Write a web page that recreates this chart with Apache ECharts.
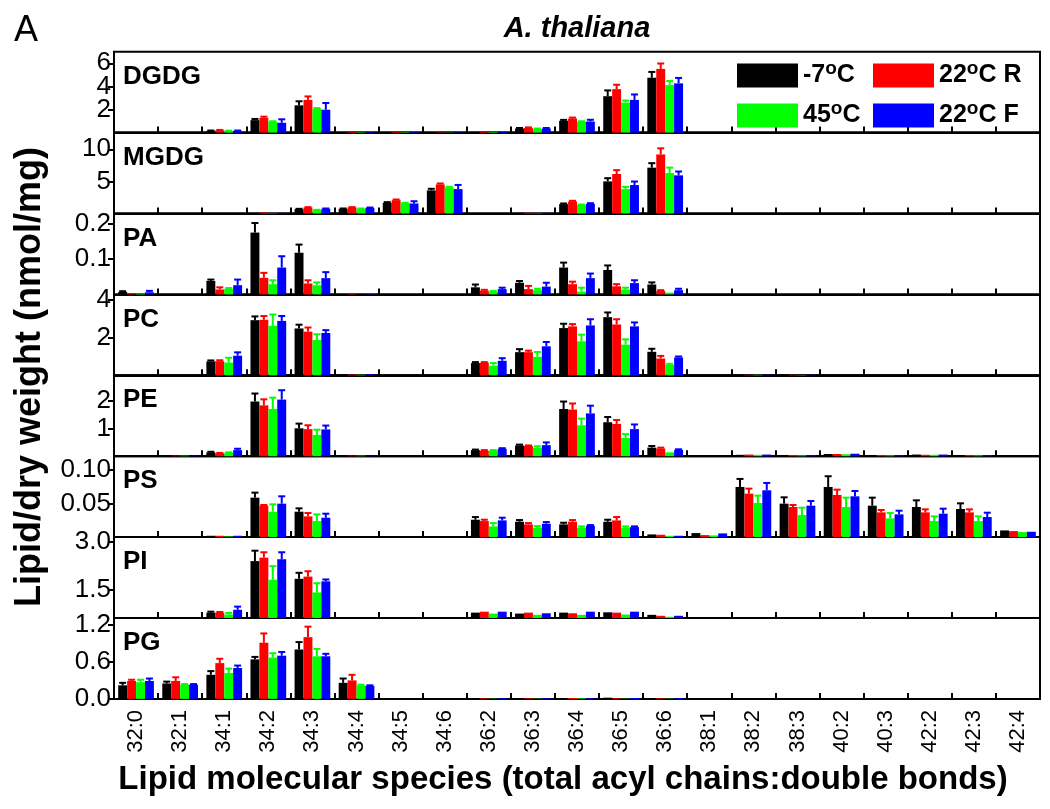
<!DOCTYPE html>
<html><head><meta charset="utf-8">
<script src="https://cdn.jsdelivr.net/npm/echarts@6/dist/echarts.min.js"></script>
<style>html,body{margin:0;padding:0;background:#fff}#c{width:1050px;height:809px}</style>
</head><body><div id="c"></div>
<script>
// ---------------- DATA ----------------
const categories = ['32:0','32:1','34:1','34:2','34:3','34:4','34:5','34:6','36:2','36:3','36:4','36:5','36:6','38:1','38:2','38:3','40:2','40:3','42:2','42:3','42:4'];
const seriesNames = ['-7°C','22°C R','45°C','22°C F'];
const panelNames = ['DGDG','MGDG','PA','PC','PE','PS','PI','PG'];
const n = null;

// DGDG
const dgdgM7  = [n,n,0.15,1.08,2.36,0.05,0.05,0.03,0.06,0.35,1.02,3.15,4.75,n,n,n,n,n,n,n,n];
const dgdgR22 = [n,n,0.20,1.28,2.83,0.05,0.05,0.03,0.07,0.40,1.22,3.76,5.51,n,n,n,n,n,n,n,n];
const dgdg45  = [n,n,0.15,0.93,2.07,0.04,0.04,0.02,0.05,0.32,0.93,2.60,4.11,n,n,n,n,n,n,n,n];
const dgdgF22 = [n,n,0.15,0.85,1.98,0.05,0.05,0.03,0.06,0.35,0.96,2.83,4.26,n,n,n,n,n,n,n,n];
const dgdgM7Err  = [0,0,0.03,0.10,0.35,0,0,0,0,0.05,0.08,0.50,0.50,0,0,0,0,0,0,0,0];
const dgdgR22Err = [0,0,0.03,0.10,0.30,0,0,0,0,0.05,0.08,0.38,0.47,0,0,0,0,0,0,0,0];
const dgdg45Err  = [0,0,0.02,0.05,0.05,0,0,0,0,0.03,0.05,0.17,0.35,0,0,0,0,0,0,0,0];
const dgdgF22Err = [0,0,0.03,0.30,0.58,0,0,0,0,0.05,0.15,0.47,0.47,0,0,0,0,0,0,0,0];

// MGDG
const mgdgM7  = [n,n,n,0.10,0.68,0.73,1.67,3.60,n,0.10,1.46,5.00,7.14,n,n,n,n,n,n,n,n];
const mgdgR22 = [n,n,n,0.15,0.94,0.94,2.08,4.53,n,0.12,1.88,6.15,9.20,n,n,n,n,n,n,n,n];
const mgdg45  = [n,n,n,0.05,0.52,0.73,1.61,4.06,n,0.05,1.35,3.80,6.30,n,n,n,n,n,n,n,n];
const mgdgF22 = [n,n,n,0.10,0.73,0.88,1.56,3.80,n,0.10,1.51,4.43,5.94,n,n,n,n,n,n,n,n];
const mgdgM7Err  = [0,0,0,0,0.05,0.05,0.10,0.25,0,0,0.10,0.50,0.70,0,0,0,0,0,0,0,0];
const mgdgR22Err = [0,0,0,0,0.05,0.05,0.10,0.15,0,0,0.10,0.60,0.95,0,0,0,0,0,0,0,0];
const mgdg45Err  = [0,0,0,0,0.05,0.05,0.05,0.10,0,0,0.05,0.35,0.85,0,0,0,0,0,0,0,0];
const mgdgF22Err = [0,0,0,0,0.05,0.05,0.35,0.65,0,0,0.10,0.55,0.60,0,0,0,0,0,0,0,0];

// PA
const paM7  = [0.007,n,0.038,0.175,0.118,0.001,n,0.001,0.020,0.033,0.076,0.069,0.028,n,n,n,n,n,n,n,n];
const paR22 = [0.003,n,0.014,0.047,0.031,0.001,n,n,0.011,0.015,0.029,0.023,0.010,n,n,n,n,n,n,n,n];
const pa45  = [0.002,n,0.016,0.029,0.026,n,n,n,0.008,0.012,0.008,0.014,0.005,n,n,n,n,n,n,n,n];
const paF22 = [0.006,n,0.026,0.076,0.046,0.001,n,n,0.015,0.022,0.046,0.032,0.012,n,n,n,n,n,n,n,n];
const paM7Err  = [0.002,0,0.004,0.027,0.023,0,0,0,0.008,0.005,0.014,0.013,0.006,0,0,0,0,0,0,0,0];
const paR22Err = [0,0,0.006,0.014,0.009,0,0,0,0.002,0.009,0.007,0.006,0.002,0,0,0,0,0,0,0,0];
const pa45Err  = [0,0,0.002,0.011,0.008,0,0,0,0.002,0.004,0.011,0.005,0,0,0,0,0,0,0,0,0];
const paF22Err = [0.004,0,0.016,0.032,0.017,0,0,0,0.004,0.011,0.013,0.008,0.004,0,0,0,0,0,0,0,0];

// PC
const pcM7  = [n,n,0.74,2.93,2.49,0.05,n,n,0.65,1.23,2.51,3.09,1.25,n,0.03,0.03,n,n,n,n,n];
const pcR22 = [n,n,0.75,2.95,2.32,0.04,n,n,0.67,1.23,2.60,2.70,0.89,n,0.03,0.03,n,n,n,n,n];
const pc45  = [n,n,0.68,2.63,1.88,0.03,n,n,0.51,0.98,1.81,1.63,0.56,n,0.03,0.02,n,n,n,n,n];
const pcF22 = [n,n,1.04,2.89,2.25,0.05,n,n,0.77,1.54,2.65,2.60,0.95,n,0.03,0.03,n,n,n,n,n];
const pcM7Err  = [0,0,0.05,0.20,0.20,0,0,0,0.05,0.16,0.23,0.25,0.16,0,0,0,0,0,0,0,0];
const pcR22Err = [0,0,0.05,0.20,0.22,0,0,0,0.03,0.08,0.12,0.28,0.14,0,0,0,0,0,0,0,0];
const pc45Err  = [0,0,0.25,0.60,0.30,0,0,0,0.14,0.26,0.35,0.28,0.05,0,0,0,0,0,0,0,0];
const pcF22Err = [0,0,0.18,0.26,0.15,0,0,0,0.14,0.23,0.33,0.21,0.05,0,0,0,0,0,0,0,0];

// PE
const peM7  = [n,0.02,0.14,1.98,1.01,0.02,n,n,0.22,0.39,1.71,1.23,0.31,n,0.05,0.04,0.08,0.04,0.06,0.04,n];
const peR22 = [n,0.02,0.11,1.84,0.98,0.02,n,n,0.20,0.37,1.69,1.17,0.28,n,0.06,0.04,0.08,0.04,0.05,0.04,n];
const pe45  = [n,0.02,0.13,1.71,0.77,0.02,n,n,0.20,0.31,1.12,0.66,0.14,n,0.05,0.03,0.07,0.03,0.05,0.03,n];
const peF22 = [n,0.02,0.22,2.05,0.97,0.02,n,n,0.27,0.40,1.55,0.98,0.23,n,0.06,0.04,0.09,0.04,0.06,0.04,n];
const peM7Err  = [0,0,0.02,0.29,0.17,0,0,0,0.02,0.03,0.27,0.19,0.06,0,0,0,0,0,0,0,0];
const peR22Err = [0,0,0.01,0.22,0.14,0,0,0,0.02,0.02,0.22,0.14,0.03,0,0,0,0,0,0,0,0];
const pe45Err  = [0,0,0.01,0.41,0.19,0,0,0,0.02,0.05,0.24,0.14,0,0,0,0,0,0,0,0,0];
const peF22Err = [0,0,0.05,0.34,0.14,0,0,0,0.02,0.10,0.28,0.17,0.02,0,0,0,0,0,0,0,0];

// PS
const psM7  = [n,n,0.002,0.059,0.038,n,n,n,0.026,0.023,0.019,0.023,0.004,0.006,0.075,0.050,0.075,0.047,0.045,0.042,0.010];
const psR22 = [n,n,0.002,0.047,0.031,n,n,n,0.024,0.019,0.023,0.025,0.0035,0.003,0.065,0.045,0.063,0.037,0.037,0.037,0.009];
const ps45  = [n,n,0.001,0.038,0.024,n,n,n,0.016,0.014,0.014,0.014,0.002,0.0025,0.051,0.033,0.045,0.028,0.024,0.024,0.0075];
const psF22 = [n,n,0.002,0.050,0.029,n,n,n,0.025,0.020,0.017,0.015,0.002,0.0055,0.070,0.047,0.061,0.034,0.035,0.030,0.008];
const psM7Err  = [0,0,0,0.0075,0.005,0,0,0,0.004,0.0025,0.0025,0.003,0,0,0.012,0.0095,0.016,0.012,0.010,0.0085,0];
const psR22Err = [0,0,0,0.001,0.005,0,0,0,0.002,0.002,0.0025,0.005,0,0,0.0075,0.003,0.008,0.0035,0.0045,0.0045,0];
const ps45Err  = [0,0,0,0.011,0.010,0,0,0,0.005,0.0025,0.002,0.002,0,0,0.011,0.011,0.014,0.008,0.007,0.007,0];
const psF22Err = [0,0,0,0.011,0.006,0,0,0,0.004,0.0025,0.001,0.001,0,0,0.011,0.007,0.008,0.0055,0.0075,0.0065,0];

// PI
const piM7  = [n,n,0.77,2.40,1.84,n,n,n,0.77,0.74,0.77,0.78,0.70,n,n,n,n,n,n,n,n];
const piR22 = [n,n,0.77,2.51,1.91,n,n,n,0.80,0.77,0.75,0.77,0.67,n,n,n,n,n,n,n,n];
const pi45  = [n,n,0.71,1.81,1.41,n,n,n,0.74,0.70,0.70,0.71,0.64,n,n,n,n,n,n,n,n];
const piF22 = [n,n,0.86,2.46,1.76,n,n,n,0.80,0.75,0.80,0.80,0.67,n,n,n,n,n,n,n,n];
const piM7Err  = [0,0,0.03,0.33,0.19,0,0,0,0,0,0,0,0,0,0,0,0,0,0,0,0];
const piR22Err = [0,0,0.02,0.17,0.17,0,0,0,0,0,0,0,0,0,0,0,0,0,0,0,0];
const pi45Err  = [0,0,0.05,0.43,0.29,0,0,0,0,0,0,0,0,0,0,0,0,0,0,0,0];
const piF22Err = [0,0,0.10,0.22,0.06,0,0,0,0,0,0,0,0,0,0,0,0,0,0,0,0];

// PG
const pgM7  = [0.22,0.25,0.39,0.64,0.80,0.26,n,n,0.01,0.01,0.015,0.02,0.01,n,n,n,n,n,n,n,n];
const pgR22 = [0.29,0.29,0.58,0.91,1.00,0.30,n,n,0.01,0.01,0.015,0.01,0.01,n,n,n,n,n,n,n,n];
const pg45  = [0.27,0.23,0.42,0.67,0.69,0.22,n,n,0.005,0.005,0.01,0.005,0.005,n,n,n,n,n,n,n,n];
const pgF22 = [0.29,0.23,0.50,0.70,0.69,0.21,n,n,0.01,0.01,0.01,0.015,0.01,n,n,n,n,n,n,n,n];
const pgM7Err  = [0.04,0.03,0.06,0.04,0.12,0.07,0,0,0,0,0,0,0,0,0,0,0,0,0,0,0];
const pgR22Err = [0.02,0.06,0.07,0.15,0.17,0.09,0,0,0,0,0,0,0,0,0,0,0,0,0,0,0];
const pg45Err  = [0.04,0.01,0.07,0.07,0.12,0.01,0,0,0,0,0,0,0,0,0,0,0,0,0,0,0];
const pgF22Err = [0.04,0.01,0.04,0.06,0.04,0.01,0,0,0,0,0,0,0,0,0,0,0,0,0,0,0];

// y-axis tick labels per panel
const dgdgTicks = [2, 4, 6];
const mgdgTicks = [5, 10];
const paTicks = [0.1, 0.2];
const pcTicks = [2, 4];
const peTicks = [1, 2];
const psTicks = [0.05, 0.10];
const piTicks = [1.5, 3.0];
const pgTicks = [0, 0.6, 1.2];

// ---------------- BUILD ----------------
const panelValues = [
  [dgdgM7, dgdgR22, dgdg45, dgdgF22],
  [mgdgM7, mgdgR22, mgdg45, mgdgF22],
  [paM7, paR22, pa45, paF22],
  [pcM7, pcR22, pc45, pcF22],
  [peM7, peR22, pe45, peF22],
  [psM7, psR22, ps45, psF22],
  [piM7, piR22, pi45, piF22],
  [pgM7, pgR22, pg45, pgF22]
];
const panelErrors = [
  [dgdgM7Err, dgdgR22Err, dgdg45Err, dgdgF22Err],
  [mgdgM7Err, mgdgR22Err, mgdg45Err, mgdgF22Err],
  [paM7Err, paR22Err, pa45Err, paF22Err],
  [pcM7Err, pcR22Err, pc45Err, pcF22Err],
  [peM7Err, peR22Err, pe45Err, peF22Err],
  [psM7Err, psR22Err, ps45Err, psF22Err],
  [piM7Err, piR22Err, pi45Err, piF22Err],
  [pgM7Err, pgR22Err, pg45Err, pgF22Err]
];
const panelTicks = [dgdgTicks, mgdgTicks, paTicks, pcTicks, peTicks, psTicks, piTicks, pgTicks];
const axisCfg = [
  {min: 0, max: 7.0, dec: 0},
  {min: 0, max: 12.6, dec: 0},
  {min: 0, max: 0.229, dec: 1},
  {min: 0, max: 4.3, dec: 0},
  {min: 0, max: 2.93, dec: 0},
  {min: 0, max: 0.121, dec: 2},
  {min: 0.6, max: 3.16, dec: 1},
  {min: 0, max: 1.31, dec: 1}
];
const colors = ['#000000', '#ff0000', '#00ff00', '#0000ff'];
const CAT_GAP = 0.19;

const gridLeft = 114, gridWidth = 926, top0 = 51.7, panelH = 80.9;
const FONT = '"Liberation Sans", Arial, sans-serif';
const NARROW = '"Liberation Sans Narrow", "Liberation Sans", Arial, sans-serif';

const grids = [], xAxes = [], yAxes = [], series = [], graphics = [];

function makeErrRender(k, color) {
  return function (params, api) {
    const v = api.value(1), e = api.value(2);
    if (v == null || isNaN(v) || !e) return null;
    const p0 = api.coord([api.value(0), v]);
    const p1 = api.coord([api.value(0), v + e]);
    const catW = api.size([1, 0])[0];
    const gw = catW * (1 - CAT_GAP);
    const bw = gw / 4;
    const cx = p0[0] - gw / 2 + (k + 0.5) * bw;
    const cap = 3.5;
    return {
      type: 'group',
      children: [
        {type: 'line', shape: {x1: cx, y1: p0[1], x2: cx, y2: p1[1]}, style: {stroke: color, lineWidth: 2}},
        {type: 'line', shape: {x1: cx - cap, y1: p1[1], x2: cx + cap, y2: p1[1]}, style: {stroke: color, lineWidth: 2}}
      ]
    };
  };
}

function yAxisDef(i, ticks, showLine) {
  const cfg = axisCfg[i];
  return {
    type: 'value', gridIndex: i, min: cfg.min, max: cfg.max, position: 'left',
    axisLine: {show: showLine, onZero: false, lineStyle: {color: '#000', width: 2}},
    axisTick: {show: true, length: 6, lineStyle: {color: '#000', width: 2}, customValues: ticks},
    axisLabel: {fontSize: 26, fontFamily: FONT, color: '#000', margin: 3, customValues: ticks,
      formatter: (v) => Number(v).toFixed(cfg.dec)},
    splitLine: {show: false}
  };
}

panelNames.forEach((pn, i) => {
  const top = top0 + i * panelH;
  grids.push({left: gridLeft, top: top, width: gridWidth, height: panelH, show: true, borderColor: '#000', borderWidth: 2, backgroundColor: 'transparent'});
  xAxes.push({
    type: 'category', gridIndex: i, data: categories, boundaryGap: true,
    axisLine: {lineStyle: {color: '#000', width: 2}},
    axisTick: {show: true, inside: true, length: 6, lineStyle: {color: '#000', width: 2}},
    axisLabel: {show: i === 7, rotate: 90, interval: 0, fontSize: 22, fontFamily: FONT, color: '#000', margin: 11},
    splitLine: {show: false}
  });
  // main axis carries every other tick label; a twin axis on the same grid carries the rest
  const t = panelTicks[i];
  yAxes.push(yAxisDef(i, t.filter((_, j) => j % 2 === 0), true));
  series.forEach(() => {});
  for (let k = 0; k < 4; k++) {
    series.push({
      type: 'bar', name: seriesNames[k], xAxisIndex: i, yAxisIndex: i,
      data: panelValues[i][k], barGap: '0%', barCategoryGap: (CAT_GAP * 100) + '%',
      itemStyle: {color: colors[k]}, silent: true, animation: false
    });
  }
  for (let k = 0; k < 4; k++) {
    const d = [];
    panelValues[i][k].forEach((v, c) => { if (v != null) d.push([c, v, panelErrors[i][k][c]]); });
    series.push({
      type: 'custom', name: 'err' + i + '_' + k, xAxisIndex: i, yAxisIndex: i,
      data: d, encode: {x: 0, y: 1}, renderItem: makeErrRender(k, colors[k]), z: 3, silent: true, animation: false
    });
  }
  graphics.push({type: 'text', x: 123, y: top + 25, style: {text: pn, font: 'bold 26px ' + FONT, fill: '#000', verticalAlign: 'middle'}});
});
// twin axes (indices 8..15) for the remaining tick labels
panelNames.forEach((pn, i) => {
  const rest = panelTicks[i].filter((_, j) => j % 2 === 1);
  const ax = yAxisDef(i, rest, false);
  if (!rest.length) { ax.axisLabel.show = false; ax.axisTick.show = false; }
  yAxes.push(ax);
});

graphics.push({type: 'text', x: 577, y: 29, style: {text: 'A. thaliana', font: 'italic bold 29px ' + NARROW, fill: '#000', align: 'center', verticalAlign: 'middle'}});
graphics.push({type: 'text', x: 26, y: 31, style: {text: 'A', font: '36px ' + NARROW, fill: '#000', align: 'center', verticalAlign: 'middle'}});
graphics.push({type: 'text', x: 30, y: 377, rotation: Math.PI / 2, style: {text: 'Lipid/dry weight (nmol/mg)', font: 'bold 36px ' + FONT, fill: '#000', align: 'center', verticalAlign: 'middle'}});
graphics.push({type: 'text', x: 563, y: 780, style: {text: 'Lipid molecular species (total acyl chains:double bonds)', font: 'bold 33px ' + NARROW, fill: '#000', align: 'center', verticalAlign: 'middle'}});

const legendBase = {
  orient: 'horizontal', itemWidth: 61, itemHeight: 24, padding: 0, selectedMode: false, icon: 'rect',
  formatter: (name) => name.replace('°', '{s|o}'),
  textStyle: {fontSize: 25, fontWeight: 'bold', fontFamily: FONT, color: '#000',
    rich: {s: {fontSize: 19, fontWeight: 'bold', fontFamily: FONT, color: '#000', verticalAlign: 'top', padding: [0, 0, 14, 0]}}}
};
const legends = [
  Object.assign({}, legendBase, {left: 737, top: 59, data: [seriesNames[0]]}),
  Object.assign({}, legendBase, {left: 873, top: 59, data: [seriesNames[1]]}),
  Object.assign({}, legendBase, {left: 737, top: 99, data: [seriesNames[2]]}),
  Object.assign({}, legendBase, {left: 873, top: 99, data: [seriesNames[3]]})
];

const chart = echarts.init(document.getElementById('c'), null, {renderer: 'canvas'});
chart.setOption({
  backgroundColor: '#fff',
  animation: false,
  grid: grids, xAxis: xAxes, yAxis: yAxes, series: series,
  legend: legends, graphic: graphics
});
</script></body></html>
